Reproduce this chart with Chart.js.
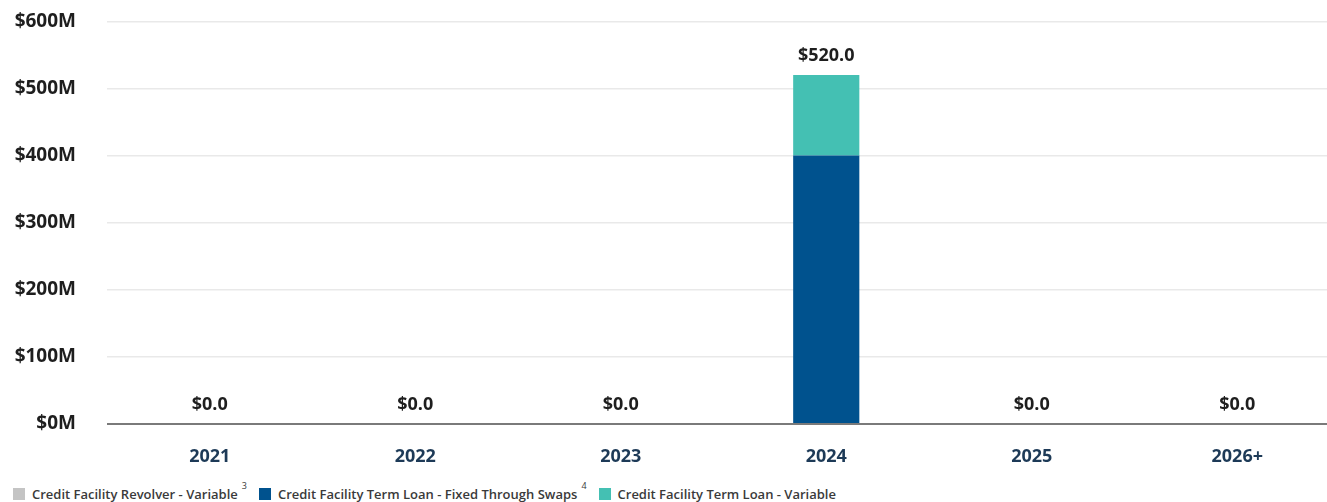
<!DOCTYPE html>
<html>
<head>
<meta charset="utf-8">
<script src="https://cdn.jsdelivr.net/npm/chart.js@4/dist/chart.umd.min.js"></script>
<style>
  html, body { margin: 0; padding: 0; background: #ffffff; overflow: hidden; width: 1327px; height: 502px; position: relative; }
  #wrap { position: absolute; left: 0; top: -21px; width: 1340px; height: 499px; }
  #legend { position: absolute; left: 13px; top: 479px; font-family: "Open Sans", sans-serif; font-size: 13px; font-weight: 600; color: #3a3a3a; white-space: nowrap; }
  #legend span.item { display: inline-block; margin-right: 12px; }
  #legend i { display: inline-block; width: 12px; height: 12px; vertical-align: -1px; margin-right: 7px; }
  #legend sup { font-size: 9px; font-weight: 400; vertical-align: 10px; margin-left: 4px; }
</style>
</head>
<body>
<div id="wrap"><canvas id="c"></canvas></div>
<div id="legend"></div>
<script>
const categories = ["2021", "2022", "2023", "2024", "2025", "2026+"];
const revolverVariable = [0, 0, 0, 0, 0, 0];
const termLoanFixedSwaps = [0, 0, 0, 400, 0, 0];
const termLoanVariable = [0, 0, 0, 120, 0, 0];
const yTickValues = [0, 100, 200, 300, 400, 500, 600];
const seriesNames = ["Credit Facility Revolver - Variable", "Credit Facility Term Loan - Fixed Through Swaps", "Credit Facility Term Loan - Variable"];
const seriesNotes = ["3", "4", ""];
const seriesColors = ["#c4c4c4", "#00528e", "#44c0b3"];

const totalsPlugin = {
  id: 'totals',
  afterDatasetsDraw(chart) {
    const ctx = chart.ctx;
    const y = chart.scales.y;
    const x = chart.scales.x;
    ctx.save();
    ctx.font = '700 18px "Open Sans", sans-serif';
    ctx.fillStyle = '#1e1e1e';
    ctx.textAlign = 'center';
    ctx.textBaseline = 'middle';
    categories.forEach((c, i) => {
      const total = revolverVariable[i] + termLoanFixedSwaps[i] + termLoanVariable[i];
      ctx.fillText('$' + total.toFixed(1), x.getPixelForValue(i), y.getPixelForValue(total) - 19);
    });
    ctx.restore();
  }
};

const datasets = [revolverVariable, termLoanFixedSwaps, termLoanVariable].map((d, k) => ({
  label: seriesNames[k],
  data: d,
  backgroundColor: seriesColors[k],
  borderWidth: 0,
  barPercentage: 0.322,
  categoryPercentage: 1.0,
  stack: 's'
}));

new Chart(document.getElementById('c'), {
  type: 'bar',
  data: { labels: categories, datasets },
  options: {
    responsive: true,
    maintainAspectRatio: false,
    animation: false,
    layout: { padding: { top: 0, right: 0, left: 0, bottom: 0 } },
    plugins: { legend: { display: false }, tooltip: { enabled: false } },
    scales: {
      x: {
        stacked: true,
        grid: { display: false, drawTicks: false },
        border: { display: false },
        ticks: { color: '#1d3a57', font: { family: '"Open Sans", sans-serif', size: 18, weight: '700' }, padding: 22 },
        afterFit(s) { s.height = 54; }
      },
      y: {
        stacked: true,
        min: 0, max: 600,
        afterBuildTicks(s) { s.ticks = yTickValues.map(v => ({ value: v })); },
        grid: {
          drawTicks: false,
          color: c => c.tick && c.tick.value === 0 ? '#7a7a7a' : '#e9e9e9',
          lineWidth: c => c.tick && c.tick.value === 0 ? 2 : 1.5
        },
        border: { display: false },
        ticks: {
          color: '#1e1e1e',
          font: { family: '"Open Sans", sans-serif', size: 19, weight: '700' },
          padding: 31,
          callback: v => '$' + v + 'M'
        },
        afterFit(s) { s.width = 107; }
      }
    }
  },
  plugins: [totalsPlugin]
});

const lg = document.getElementById('legend');
seriesNames.forEach((n, k) => {
  const s = document.createElement('span');
  s.className = 'item';
  const i = document.createElement('i');
  i.style.background = seriesColors[k];
  s.appendChild(i);
  s.appendChild(document.createTextNode(n));
  if (seriesNotes[k]) {
    const sp = document.createElement('sup');
    sp.textContent = seriesNotes[k];
    s.appendChild(sp);
  }
  lg.appendChild(s);
});
</script>
</body>
</html>
